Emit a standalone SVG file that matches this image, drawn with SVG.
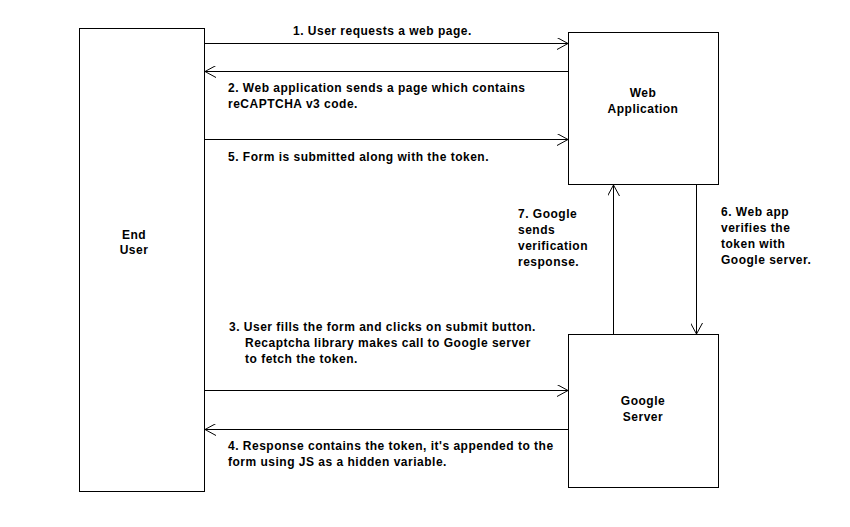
<svg xmlns="http://www.w3.org/2000/svg" width="850" height="527" viewBox="0 0 850 527">
<style>
.box{fill:#fff;stroke:#000;stroke-width:1}
.ln{stroke:#000;stroke-width:1;fill:none}
text{font-family:"Liberation Sans",Arial,sans-serif;font-weight:bold;font-size:12px;letter-spacing:0.5px;fill:#000}
.c{text-anchor:middle}
</style>
<defs>
<marker id="ah" markerWidth="12" markerHeight="12" refX="11" refY="6" orient="auto" markerUnits="userSpaceOnUse">
<path d="M0,0 L11,6 L0,12" fill="none" stroke="#000" stroke-width="1"/>
</marker>
</defs>
<rect width="850" height="527" fill="#fff"/>
<g id="end-user">
<rect class="box" x="79.5" y="28.5" width="125" height="463"/>
<text class="c" x="134" y="239">End</text>
<text class="c" x="134" y="254">User</text>
</g>
<g id="web-app">
<rect class="box" x="568.5" y="32.5" width="150" height="152"/>
<text class="c" x="643" y="97">Web</text>
<text class="c" x="643" y="113">Application</text>
</g>
<g id="google-server">
<rect class="box" x="568.5" y="334.5" width="150" height="153"/>
<text class="c" x="643" y="405">Google</text>
<text class="c" x="643" y="421">Server</text>
</g>
<g id="connectors">
<line class="ln" x1="204.5" y1="43.5" x2="568" y2="43.5" marker-end="url(#ah)"/>
<line class="ln" x1="568.5" y1="71.5" x2="205" y2="71.5" marker-end="url(#ah)"/>
<line class="ln" x1="204.5" y1="139.5" x2="568" y2="139.5" marker-end="url(#ah)"/>
<line class="ln" x1="613.5" y1="334.5" x2="613.5" y2="185" marker-end="url(#ah)"/>
<line class="ln" x1="696.5" y1="184.5" x2="696.5" y2="334" marker-end="url(#ah)"/>
<line class="ln" x1="204.5" y1="390.5" x2="568" y2="390.5" marker-end="url(#ah)"/>
<line class="ln" x1="568.5" y1="429.5" x2="205" y2="429.5" marker-end="url(#ah)"/>
</g>
<g id="labels">
<text x="293" y="35">1. User requests a web page.</text>
<text x="228" y="92">2. Web application sends a page which contains</text>
<text x="228" y="108">reCAPTCHA v3 code.</text>
<text x="228" y="161">5. Form is submitted along with the token.</text>
<text x="518" y="218">7. Google</text>
<text x="518" y="234">sends</text>
<text x="518" y="250">verification</text>
<text x="518" y="266">response.</text>
<text x="721" y="216">6. Web app</text>
<text x="721" y="232">verifies the</text>
<text x="721" y="248">token with</text>
<text x="721" y="264">Google server.</text>
<text x="229" y="331">3. User fills the form and clicks on submit button.</text>
<text x="245" y="347">Recaptcha library makes call to Google server</text>
<text x="245" y="363">to fetch the token.</text>
<text x="228" y="450">4. Response contains the token, it's appended to the</text>
<text x="228" y="466">form using JS as a hidden variable.</text>
</g>
</svg>
